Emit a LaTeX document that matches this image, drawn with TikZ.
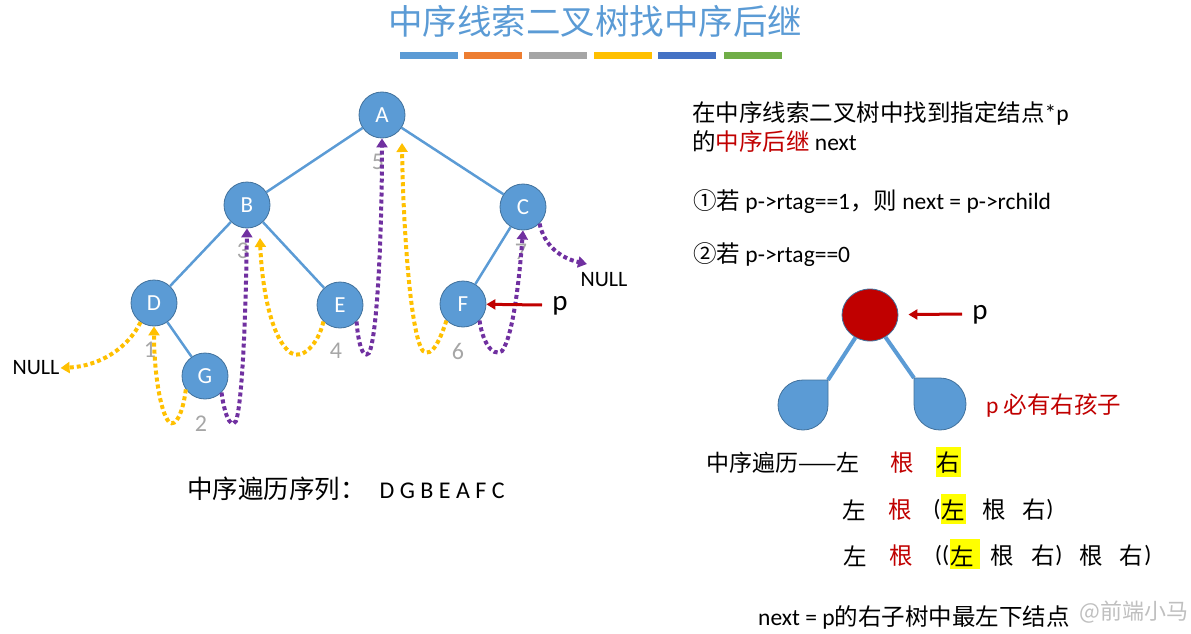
\documentclass[tikz,border=0pt]{standalone}
\usepackage{fontspec}
\setmainfont{Carlito}
\newfontfamily\cjk{Noto Sans CJK SC}
\usetikzlibrary{arrows.meta,shapes.geometric}
\definecolor{nblue}{HTML}{5B9BD5}
\definecolor{nborder}{HTML}{41719C}
\definecolor{tyel}{HTML}{FFC000}
\definecolor{tpur}{HTML}{7030A0}
\definecolor{dred}{HTML}{C00000}
\definecolor{lgray}{HTML}{A6A6A6}
\definecolor{barorange}{HTML}{ED7D31}
\definecolor{bargray}{HTML}{A5A5A5}
\definecolor{bardblue}{HTML}{4472C4}
\definecolor{bargreen}{HTML}{70AD47}
\definecolor{hl}{HTML}{FFFF00}
\newcommand\myfs[1]{\fontsize{#1}{#1}\selectfont}
\begin{document}
\begin{tikzpicture}[x=1pt,y=-1pt,
  tnode/.style={circle,fill=nblue,draw=nborder,line width=0.8pt,minimum size=46pt,inner sep=0pt,text=white,font=\myfs{23}},
  tedge/.style={nblue,line width=2.5pt},
  thr/.style={line width=4pt,dash pattern=on 4pt off 3pt,-{Triangle[width=11pt,length=9pt]}},
  parr/.style={dred,line width=3pt,-{Triangle[width=10pt,length=9pt]}},
  txt/.style={inner sep=0pt,anchor=west,font=\myfs{23.5}},
  ck/.style={inner sep=0pt,font=\cjk\myfs{23.5}},
  lat/.style={inner sep=0pt,font=\rmfamily\myfs{23.5}},
  num/.style={inner sep=0pt,text=lgray,font=\myfs{24}},
  nulltxt/.style={inner sep=1pt,font=\myfs{22}}
]
\path[use as bounding box] (0,0) rectangle (1191,634);

% title
\node[inner sep=0pt,text=nblue,font=\cjk\myfs{34.5}] (title) at (595,21) {中序线索二叉树找中序后继};
\fill[nblue] (400,52) rectangle (458,59);
\fill[barorange] (464,52) rectangle (522,59);
\fill[bargray] (529,52) rectangle (587,59);
\fill[tyel] (594,52) rectangle (652,59);
\fill[bardblue] (658,52) rectangle (716,59);
\fill[bargreen] (724,52) rectangle (782,59);

% left tree
\node[tnode] (A) at (382,115) {A};
\node[tnode] (B) at (247,205) {B};
\node[tnode] (C) at (523,207) {C};
\node[tnode] (D) at (154,303) {D};
\node[tnode] (E) at (340,305) {E};
\node[tnode] (F) at (463,304) {F};
\node[tnode] (G) at (205,376) {G};
\draw[tedge] (A) -- (B);
\draw[tedge] (A) -- (C);
\draw[tedge] (B) -- (D);
\draw[tedge] (B) -- (E);
\draw[tedge] (C) -- (F);
\draw[tedge] (D) -- (G);

\node[num] (n1) at (150,350) {1};
\node[num] (n2) at (201,424) {2};
\node[num] (n3) at (243,251) {3};
\node[num] (n4) at (336,351) {4};
\node[num] (n5) at (378,162) {5};
\node[num] (n6) at (458,351) {6};
\node[num] (n7) at (521,252) {7};

\node[nulltxt] (nullL) at (36,368) {NULL};
\node[nulltxt] (nullR) at (604,280) {NULL};
\coordinate (b4) at (260,238);
\coordinate (a6) at (402,143);
\coordinate (cn) at (587,264);

\draw[thr,tyel] (D.235) .. controls (128,348) and (100,366) .. (nullL.east);
\draw[thr,tyel] (G.215) .. controls (183,412) and (176,428) .. (169,422) .. controls (160,412) and (154,370) .. (D.south);
\draw[thr,tpur] (G.315) .. controls (224,412) and (230,430) .. (236,421) .. controls (243,400) and (246,300) .. (B.south);
\draw[thr,tyel] (E.225) .. controls (318,345) and (302,360) .. (291,353) .. controls (272,340) and (262,290) .. (b4);
\draw[thr,tpur] (E.315) .. controls (358,340) and (362,360) .. (369,353) .. controls (378,335) and (382,220) .. (A.south);
\draw[thr,tyel] (F.225) .. controls (440,340) and (432,358) .. (423,351) .. controls (410,335) and (403,220) .. (a6);
\draw[thr,tpur] (F.315) .. controls (482,340) and (492,358) .. (502,351) .. controls (514,335) and (520,270) .. (C.south);
\draw[thr,tpur] (C.315) .. controls (544,245) and (560,258) .. (cn);

\coordinate (fa) at (542,305);
\draw[parr] (fa) -- (F);
\node[inner sep=0pt,font=\myfs{29}] (pL) at (560,306) {p};

\node[txt,font=\cjk\myfs{25.5}] (seq) at (187,489) {中序遍历序列：\hspace{14pt}\rmfamily\myfs{24}D G B E A F C};

% right text
\node[txt] (t1) at (692,113) {\cjk 在中序线索二叉树中找到指定结点\rmfamily *p};
\node[txt] (t2) at (692,142) {\cjk 的\textcolor{dred}{中序后继} \rmfamily next};
\node[txt] (t3) at (693,202) {\cjk ①若 \rmfamily p->rtag==1\cjk ，则 \rmfamily next = p->rchild};
\node[txt] (t4) at (693,255) {\cjk ②若 \rmfamily p->rtag==0};

% right small tree
\coordinate (tl) at (828,380);
\coordinate (tr) at (914,378);
\node[ellipse,fill=dred,draw=nborder,line width=0.8pt,minimum width=56pt,minimum height=52pt,inner sep=0pt] (pr) at (870,315) {};
\draw[nblue,line width=4pt] (pr) -- (tl);
\draw[nblue,line width=4pt] (pr) -- (tr);
\draw[fill=nblue,draw=nborder,line width=0.8pt] (tl) -- (828,405) .. controls (828,418.8) and (816.8,430) .. (803,430) .. controls (789.2,430) and (778,418.8) .. (778,405) .. controls (778,391.2) and (789.2,380) .. (803,380) -- cycle;
\draw[fill=nblue,draw=nborder,line width=0.8pt] (tr) -- (940,378) .. controls (954.4,378) and (966,389.6) .. (966,404) .. controls (966,418.4) and (954.4,430) .. (940,430) .. controls (925.6,430) and (914,418.4) .. (914,404) -- cycle;
\coordinate (pa) at (962,314);
\draw[parr,shorten >=10pt] (pa) -- (pr);
\node[inner sep=0pt,font=\myfs{29}] (pR) at (980,315) {p};
\node[txt,text=dred] (must) at (986,405) {p \cjk 必有右孩子};

% traversal lines
\fill[hl] (936,447) rectangle (961,477);
\fill[hl] (941,494) rectangle (966,524);
\fill[hl] (950,539) rectangle (980,569);
\node[ck,anchor=west,font=\cjk\myfs{23}] (l1a) at (706,463) {中序遍历——左};
\node[ck,text=dred] (l1b) at (902,463) {根};
\node[ck] (l1c) at (948,463) {右};

\node[ck] (l2a) at (854,510) {左};
\node[ck,text=dred] (l2b) at (900,510) {根};
\node[lat] (l2p) at (937,510) {(};
\node[ck] (l2c) at (953,510) {左};
\node[ck] (l2d) at (994,510) {根};
\node[ck] (l2e) at (1034,510) {右};
\node[lat] (l2q) at (1050,510) {)};

\node[ck] (l3a) at (855,556) {左};
\node[ck,text=dred] (l3b) at (901,556) {根};
\node[lat] (l3p) at (942,556) {((};
\node[ck] (l3c) at (962,556) {左};
\node[ck] (l3d) at (1002,556) {根};
\node[ck] (l3e) at (1043,556) {右};
\node[lat] (l3q) at (1059,556) {)};
\node[ck] (l3f) at (1091,556) {根};
\node[ck] (l3g) at (1131,556) {右};
\node[lat] (l3h) at (1148,556) {)};

\node[txt] (nx) at (758,617) {\rmfamily next = p\cjk 的右子树中最左下结点};
\node[txt,text=gray,opacity=0.5,font=\cjk\myfs{22}] (wm) at (1079,612) {@前端小马};
\end{tikzpicture}
\end{document}
